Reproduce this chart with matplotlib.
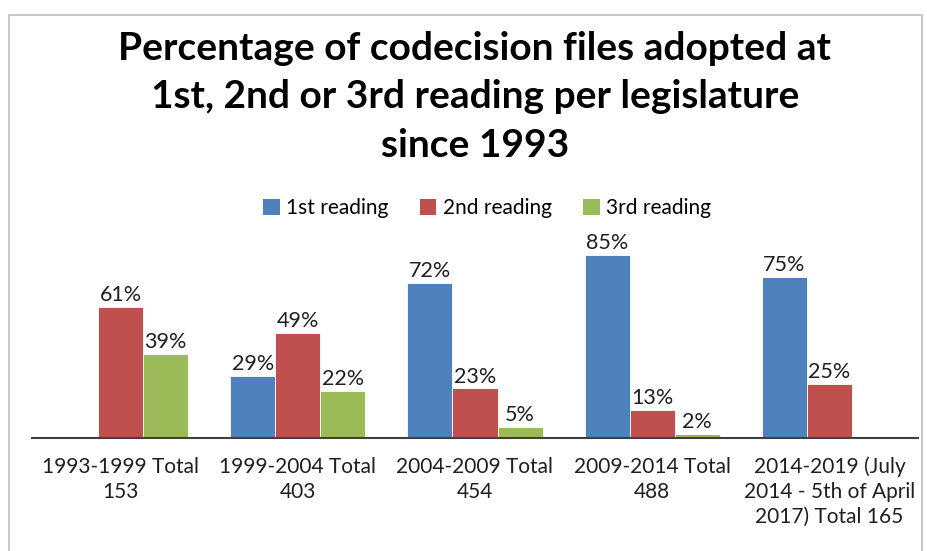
import matplotlib
matplotlib.use("Agg")
import matplotlib.pyplot as plt
from matplotlib.patches import Rectangle
import numpy as np

categories = ["1993-1999 Total\n153", "1999-2004 Total\n403", "2004-2009 Total\n454",
              "2009-2014 Total\n488", "2014-2019 (July\n2014 - 5th of April\n2017) Total 165"]
series_names = ["1st reading", "2nd reading", "3rd reading"]
first = [0, 29, 72, 85, 75]
second = [61, 49, 23, 13, 25]
third = [39, 22, 5, 2, 0]
colors = ["#4F81BD", "#C0504D", "#9BBB59"]

plt.rcParams['font.family'] = ['Lato', 'DejaVu Sans']

W, H = 928, 551
fig = plt.figure(figsize=(W/100, H/100), dpi=100)

# chart frame
fig.patches.append(Rectangle((9/W, -0.1), (922-9)/W, 1.1 - 15/H, transform=fig.transFigure,
                             fill=False, edgecolor="#BFBFBF", linewidth=1.2))

base_y = 438
px_per = 2.153
ymax = 90
top_y = base_y - ymax * px_per
ax = fig.add_axes([32/W, 1 - base_y/H, (918-32)/W, (base_y - top_y)/H])

x = np.arange(len(categories))
bw = 45/177
values = [first, second, third]
for i, (vals, c, name) in enumerate(zip(values, colors, series_names)):
    xs = x + (i - 1) * bw
    for xi, v in zip(xs, vals):
        if v > 0:
            ax.bar(xi, v, width=bw, color=c, edgecolor="white", linewidth=0.6)
            ax.text(xi, v + 0.9, f"{v}%", ha="center", va="bottom", fontsize=15.5, color="#1f1f1f")
    ax.bar([np.nan], [np.nan], color=c, label=name)

ax.set_xlim(-0.5, len(categories) - 0.5)
ax.set_ylim(0, ymax)
for s in ["top", "right", "left"]:
    ax.spines[s].set_visible(False)
ax.spines["bottom"].set_color("#404040")
ax.spines["bottom"].set_linewidth(1.5)
ax.set_yticks([])
ax.set_xticks(x)
ax.set_xticklabels(categories, fontsize=15, color="#1f1f1f", linespacing=1.3)
ax.tick_params(axis="x", length=0, pad=13.5)

fig.text(475/W, 1 - 97/H, "Percentage of codecision files adopted at\n1st, 2nd or 3rd reading per legislature\nsince 1993",
         ha="center", va="center", fontsize=28, fontweight="bold", linespacing=1.45, color="black")

fig.legend(loc="center", bbox_to_anchor=(487/W, 1 - 208/H), ncol=3, frameon=False,
           fontsize=15, handlelength=0.8, handleheight=0.8, handletextpad=0.3, columnspacing=1.5)

fig.savefig("out.png", dpi=100)
